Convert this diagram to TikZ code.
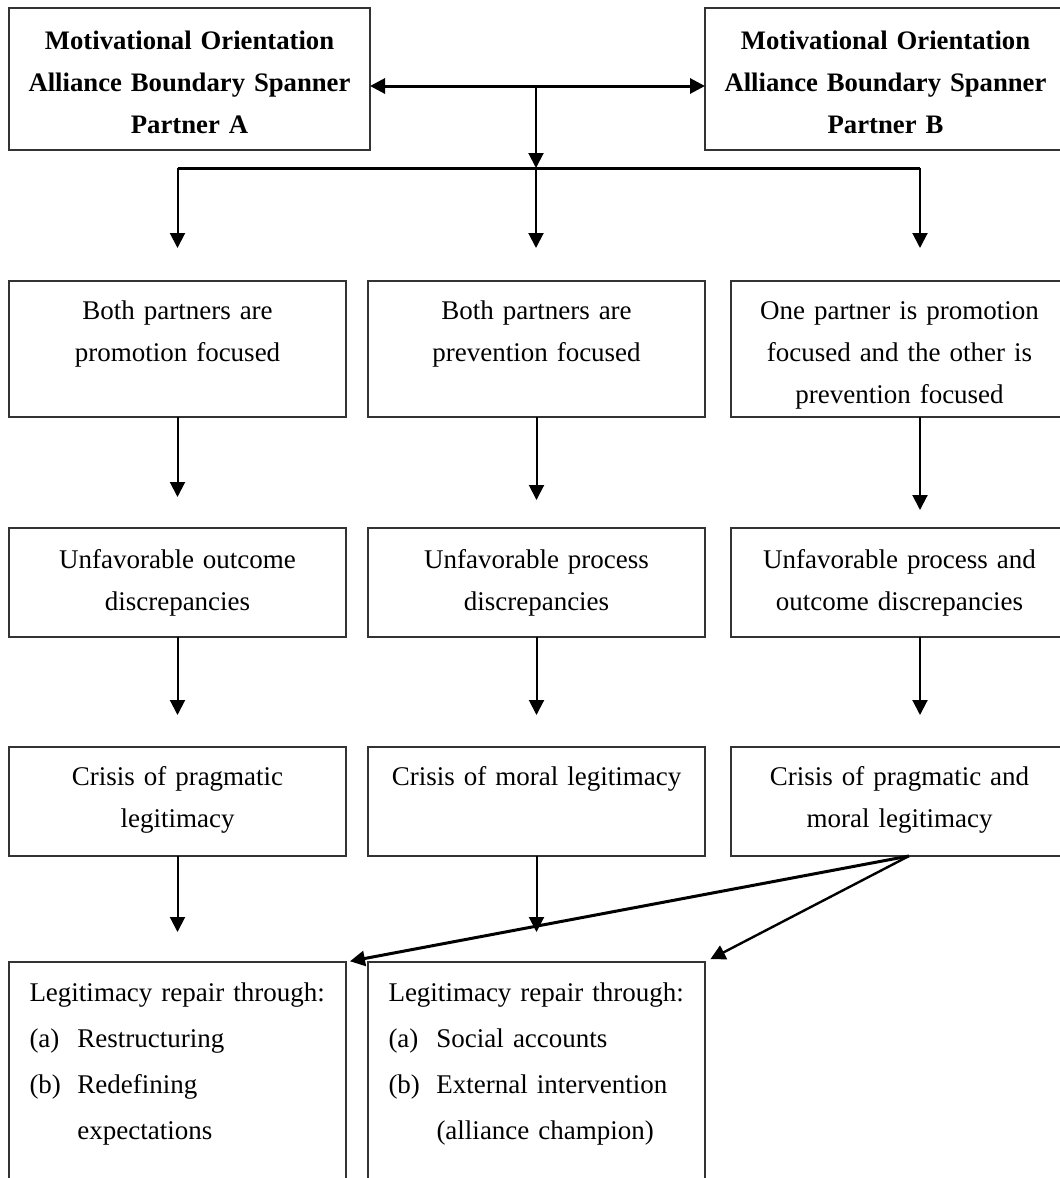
\documentclass[tikz,border=0pt]{standalone}
\usepackage{fontspec}
\setmainfont{Liberation Serif}[WordSpace=0.8]
\usetikzlibrary{arrows.meta}

\begin{document}
\begin{tikzpicture}[x=0.5pt,y=-0.5pt,>={Triangle[length=7.5pt,width=7.5pt]},
	head/.style={draw=black!80,line width=0.75pt,inner sep=0pt,outer sep=0pt,anchor=north west,
		text width=180.5pt,align=center,text height=20.5pt,text depth=50.5pt,
		font=\fontsize{13.35}{21}\selectfont\bfseries},
	stage/.style={draw=black!80,line width=0.75pt,inner sep=0pt,outer sep=0pt,anchor=north west,
		text width=168.5pt,align=center,font=\fontsize{13.5}{21}\selectfont},
	repair/.style={draw=black!80,line width=0.75pt,inner xsep=10.25pt,inner ysep=0pt,outer sep=0pt,
		anchor=north west,text width=148pt,align=left,text height=19.5pt,text depth=150pt,
		font=\fontsize{13.5}{23}\selectfont},
	flow/.style={line width=1pt},
	bar/.style={line width=1.5pt}]
		\useasboundingbox (0,0) rectangle (1060,1178);
		
		% The boundary spanners
		\node[head] (pa) at (9,8) {Motivational Orientation\\Alliance Boundary Spanner\\Partner A};
		\node[head] (pb) at (705,8) {Motivational Orientation\\Alliance Boundary Spanner\\Partner B};
		
		% The three cases
		\node[stage,text height=19pt,text depth=49pt] (p1) at (9,281) {Both partners are\\promotion focused};
		\node[stage,text height=19pt,text depth=49pt] (p2) at (368,281) {Both partners are\\prevention focused};
		\node[stage,text height=19pt,text depth=49pt] (p3) at (731,281) {One partner is promotion\\focused and the other is\\prevention focused};
		
		\node[stage,text height=20pt,text depth=34.5pt] (u1) at (9,528) {Unfavorable outcome\\discrepancies};
		\node[stage,text height=20pt,text depth=34.5pt] (u2) at (368,528) {Unfavorable process\\discrepancies};
		\node[stage,text height=20pt,text depth=34.5pt] (u3) at (731,528) {Unfavorable process and\\outcome discrepancies};
		
		\node[stage,text height=19pt,text depth=35.5pt] (c1) at (9,747) {Crisis of pragmatic\\legitimacy};
		\node[stage,text height=19pt,text depth=35.5pt] (c2) at (368,747) {Crisis of moral legitimacy};
		\node[stage,text height=19pt,text depth=35.5pt] (c3) at (731,747) {Crisis of pragmatic and\\moral legitimacy};
		
		% The repairs
		\node[repair] (r1) at (9,962) {Legitimacy repair through:\\
			\makebox[24pt][l]{(a)}Restructuring\\
			\makebox[24pt][l]{(b)}Redefining\\
			\hspace*{24pt}expectations};
		\node[repair] (r2) at (368,962) {Legitimacy repair through:\\
			\makebox[24pt][l]{(a)}Social accounts\\
			\makebox[24pt][l]{(b)}External intervention\\
			\hspace*{24pt}(alliance champion)};
		
		\coordinate (hub) at (536,86);
		\coordinate (split) at (536,168);
		\coordinate (rc) at (920,168);
		\coordinate (fork) at (909,856);
		
		% The top connectors
		\draw[bar,<->] (pa.east |- hub) -- (pb.west |- hub);
		\draw[flow,->] (hub) -- (split);
		\draw[bar] (p1.north |- split) -- (rc);
		\draw[flow,->,shorten >=16.5pt] (p1.north |- split) -- (p1.north);
		\draw[flow,->,shorten >=16.5pt] (split) -- (split |- p2.north);
		\draw[flow,->,shorten >=16.5pt] (rc) -- (rc |- p3.north);
		
		% Down the columns
		\draw[flow,->,shorten >=15.5pt] (p1.south) -- (u1.north);
		\draw[flow,->,shorten >=14pt] (p2.south) -- (u2.north);
		\draw[flow,->,shorten >=9pt] (rc |- p3.south) -- (rc |- u3.north);
		\draw[flow,->,shorten >=16pt] (u1.south) -- (c1.north);
		\draw[flow,->,shorten >=16pt] (u2.south) -- (c2.north);
		\draw[flow,->,shorten >=16pt] (rc |- u3.south) -- (rc |- c3.north);
		\draw[flow,->,shorten >=15pt] (c1.south) -- (r1.north);
		\draw[flow,->,shorten >=15pt] (c2.south) -- (r2.north);
		
		% Both crises lead to both repairs
		\draw[bar,->,shorten >=2pt] (fork) -- (r1.north east);
		\draw[line width=1.2pt,->,shorten >=3pt] (fork) -- (r2.north east);
	\end{tikzpicture}
\end{document}
